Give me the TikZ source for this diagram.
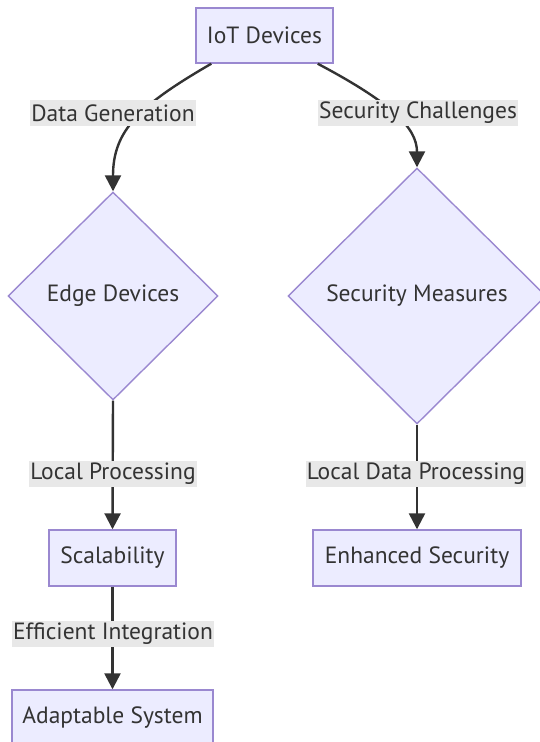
\documentclass[tikz,border=0pt]{standalone}
\usepackage{fontspec}
\setmainfont{PT Sans}
\usetikzlibrary{arrows.meta,shapes.geometric,calc}
\definecolor{nodefill}{HTML}{ECECFF}
\definecolor{nodeline}{HTML}{9A88D0}
\definecolor{txt}{HTML}{333333}
\definecolor{lblbg}{HTML}{E8E8E8}
\begin{document}
\begin{tikzpicture}[x=1pt,y=-1pt,
  every node/.style={font=\fontsize{23.5}{26}\selectfont, text=txt},
  box/.style={draw=nodeline, fill=nodefill, line width=1.4pt, inner sep=0pt, rectangle},
  dia/.style={draw=nodeline, fill=nodefill, line width=1.4pt, inner sep=0pt, diamond},
  lbl/.style={fill=lblbg, inner sep=1pt, minimum height=26pt},
  conn/.style={draw=txt, line width=2.4pt, -{Triangle[length=16pt,width=16pt]}}]
\useasboundingbox (0,0) rectangle (540,742);
\clip (0,0) rectangle (540,742);
\node[box, minimum width=137pt, minimum height=55pt] (iot) at (264.5,35.5) {IoT Devices};
\node[dia, minimum width=210pt, minimum height=208pt] (edge) at (113,296) {Edge Devices};
\node[dia, minimum width=258pt, minimum height=256pt] (sec) at (417,296) {Security Measures};
\node[box, minimum width=127pt, minimum height=56pt] (scal) at (112.5,558) {Scalability};
\node[box, minimum width=208pt, minimum height=56pt] (enh) at (417,558) {Enhanced Security};
\node[box, minimum width=201pt, minimum height=56pt] (adapt) at (112.5,718) {Adaptable System};
% connectors
\draw[conn] ($(iot.south west)+(16,0)$) .. controls (140,105) and (113,130) .. (edge.north);
\draw[conn] ($(iot.south east)+(-16,0)$) .. controls (392,103) and (417,128) .. (sec.north);
\draw[conn] (edge.south) -- (scal.north);
\draw[conn] (sec.south) -- (enh.north);
\draw[conn] (scal.south) -- (adapt.north);
% labels
\node[lbl] (l1) at (113,113) {Data Generation};
\node[lbl] (l2) at (418,113) {Security Challenges};
\node[lbl] (l3) at (113,474) {Local Processing};
\node[lbl] (l4) at (416,474) {Local Data Processing};
\node[lbl] (l5) at (113,634) {Efficient Integration};
\end{tikzpicture}
\end{document}
